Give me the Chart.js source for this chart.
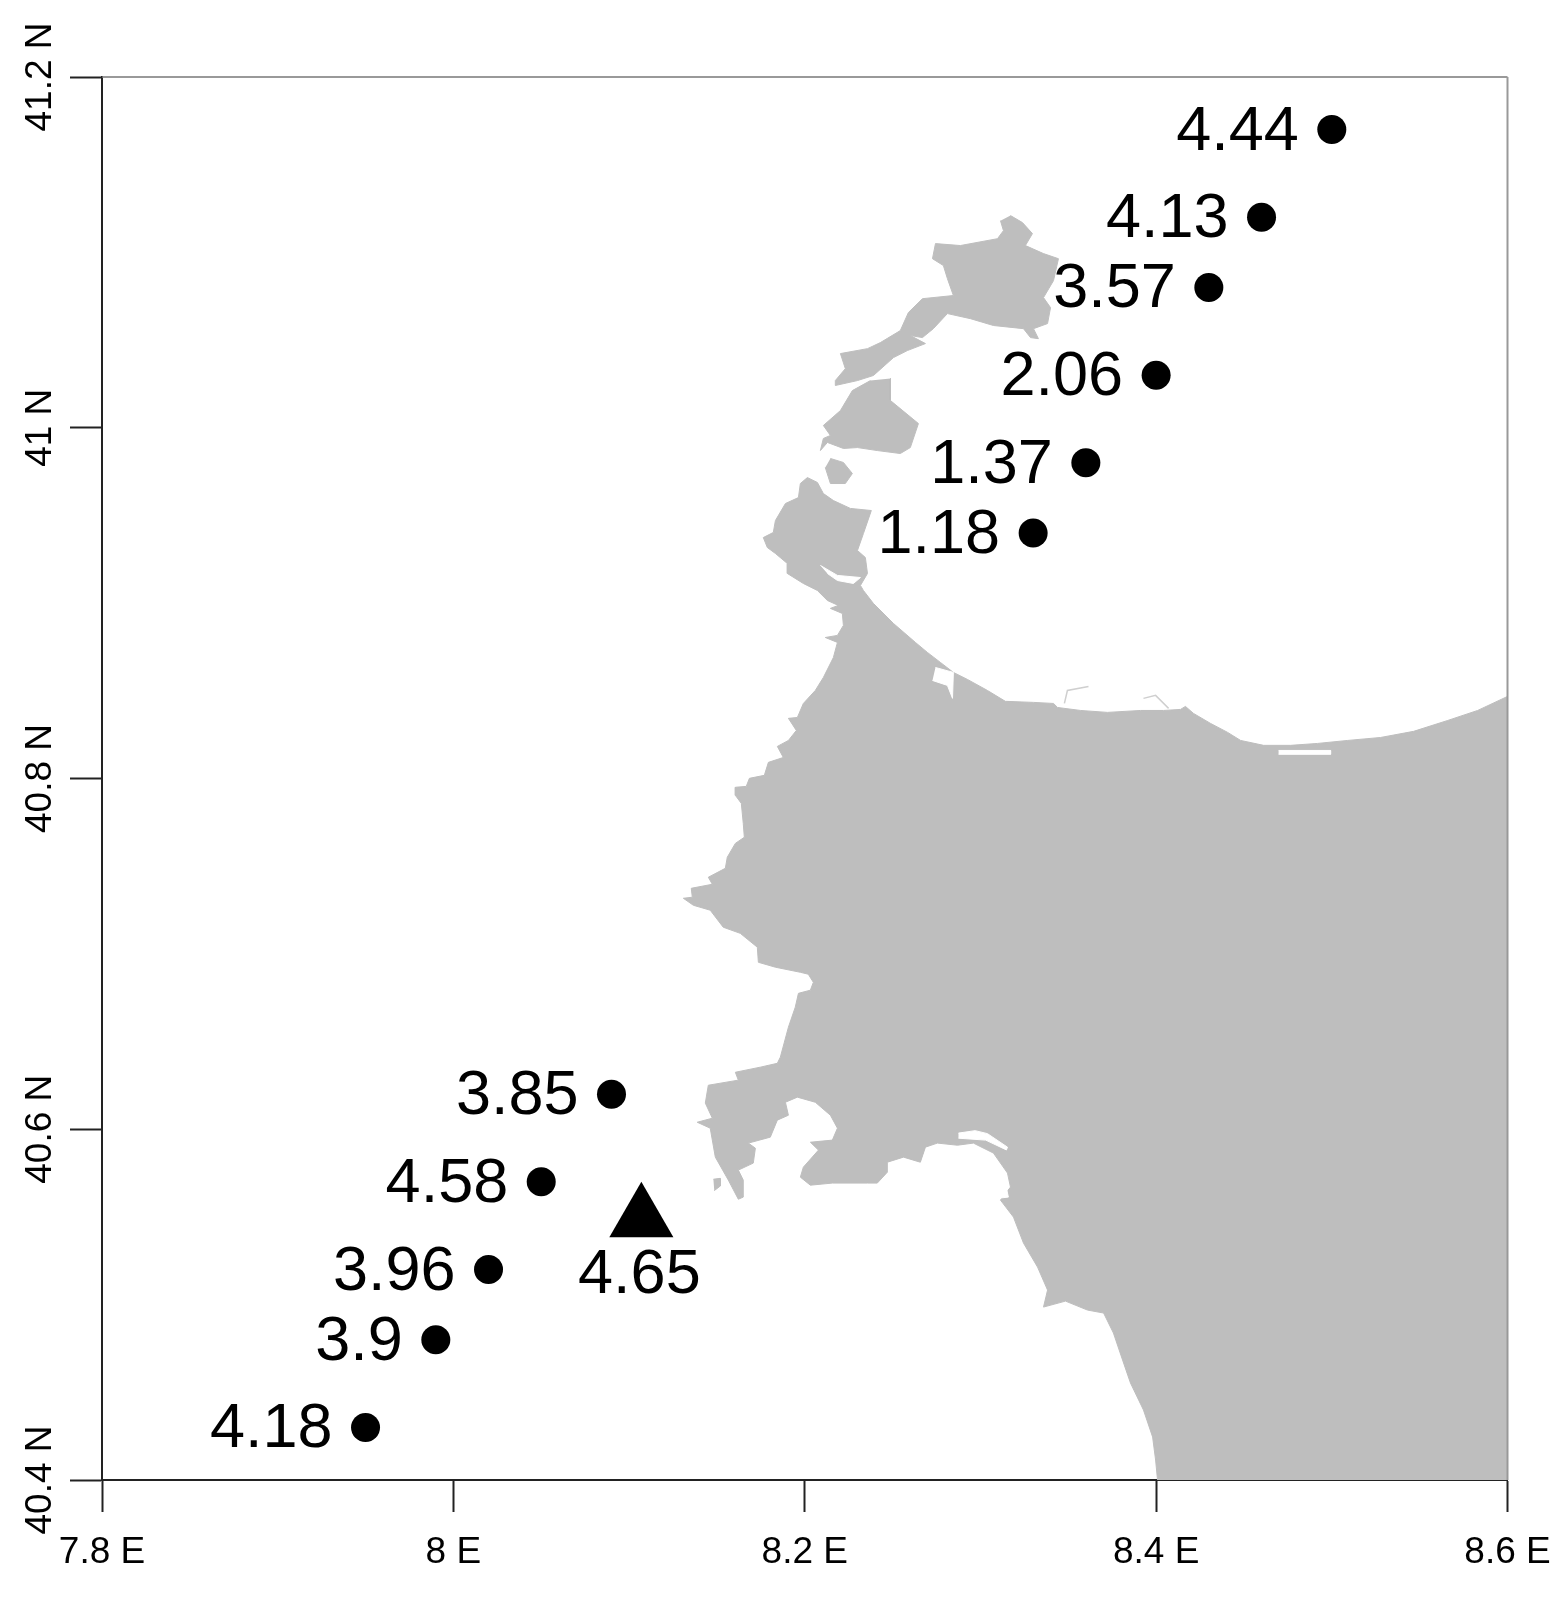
<!DOCTYPE html>
<html>
<head>
<meta charset="utf-8">
<style>
  html, body { margin: 0; padding: 0; background: #fff; }
  canvas { display: block; }
</style>
<script src="https://cdn.jsdelivr.net/npm/chart.js@4"></script>
</head>
<body>
<canvas id="mapChart" width="1561" height="1601"></canvas>
<script>
// stations
var stationLon = [8.50, 8.46, 8.43, 8.40, 8.36, 8.33, 8.09, 8.05, 8.02, 7.99, 7.95];
var stationLat = [41.17, 41.12, 41.08, 41.03, 40.98, 40.94, 40.62, 40.57, 40.52, 40.48, 40.43];
var stationLabels = ['4.44', '4.13', '3.57', '2.06', '1.37', '1.18', '3.85', '4.58', '3.96', '3.9', '4.18'];

var refLon = [8.107];
var refLat = [40.549];
var refLabels = ['4.65'];

var xTickLabels = ['7.8 E', '8 E', '8.2 E', '8.4 E', '8.6 E'];
var yTickLabels = ['40.4 N', '40.6 N', '40.8 N', '41 N', '41.2 N'];

// coastline
var mainLon = [8.6,8.583,8.566,8.5466,8.5278,8.509,8.4919,8.4765,8.4612,8.4481,8.4407,8.431,8.4213,8.4167,8.4139,8.4042,8.3911,8.3723,8.357,8.3439,8.3416,8.3302,8.3142,8.304,8.2926,8.2846,8.2772,8.2698,8.263,8.2505,8.2391,8.2334,8.2317,8.2357,8.2345,8.23,8.2334,8.2379,8.226,8.2163,8.2106,8.2072,8.2015,8.1975,8.1964,8.189,8.1833,8.1821,8.1764,8.1787,8.1833,8.1901,8.1901,8.1992,8.2072,8.2129,8.2191,8.2146,8.2214,8.222,8.2186,8.2117,8.2186,8.2163,8.2106,8.206,8.1992,8.1958,8.1907,8.1952,8.1907,8.1844,8.1878,8.1793,8.177,8.1685,8.1667,8.1605,8.1605,8.1639,8.165,8.1656,8.1605,8.1559,8.1548,8.1451,8.1474,8.1354,8.136,8.1309,8.1366,8.1462,8.1536,8.1633,8.173,8.1736,8.1833,8.1975,8.202,8.2049,8.2032,8.1964,8.1946,8.1907,8.1861,8.1844,8.1747,8.1605,8.1622,8.1451,8.1434,8.1474,8.1388,8.1462,8.1491,8.1565,8.1622,8.165,8.165,8.1622,8.1707,8.1719,8.1679,8.1804,8.1844,8.1907,8.189,8.1958,8.206,8.2146,8.2186,8.2157,8.2032,8.2078,8.1992,8.1975,8.2032,8.2157,8.2357,8.2413,8.247,8.247,8.2562,8.2658,8.2687,8.2755,8.2869,8.296,8.3074,8.3154,8.3171,8.3114,8.3188,8.3245,8.3325,8.3382,8.3359,8.3484,8.3609,8.3701,8.3757,8.3809,8.3854,8.3928,8.398,8.3997,8.4008,8.6,8.6];
var mainLat = [40.8468,40.8388,40.8331,40.8269,40.8234,40.8217,40.82,40.8189,40.8189,40.8217,40.8263,40.8314,40.8371,40.8411,40.8394,40.8388,40.8388,40.8377,40.8388,40.8405,40.8428,40.8434,40.844,40.8502,40.8565,40.8605,40.8662,40.8719,40.8776,40.8884,40.8998,40.9072,40.9101,40.9169,40.926,40.93,40.9397,40.9528,40.954,40.9585,40.9625,40.9688,40.9716,40.9682,40.9602,40.9568,40.9471,40.9403,40.9374,40.9317,40.9283,40.9226,40.9169,40.9112,40.9072,40.9015,40.8987,40.897,40.8941,40.8873,40.8816,40.8804,40.8776,40.869,40.8576,40.8502,40.8428,40.8348,40.8343,40.8274,40.8217,40.8183,40.812,40.8092,40.8018,40.8001,40.7955,40.795,40.7904,40.7858,40.7744,40.7665,40.763,40.7551,40.7488,40.7437,40.7397,40.7374,40.7323,40.7317,40.7277,40.7249,40.7152,40.7117,40.7038,40.6952,40.6924,40.6895,40.6884,40.6838,40.6793,40.6775,40.6696,40.6582,40.6411,40.6376,40.6354,40.6325,40.628,40.6251,40.6149,40.6063,40.604,40.6006,40.5841,40.571,40.5601,40.5613,40.571,40.5767,40.5807,40.5892,40.5921,40.5955,40.6052,40.608,40.6154,40.6183,40.6154,40.608,40.6006,40.5938,40.5926,40.5881,40.5784,40.5727,40.5681,40.5693,40.5693,40.5693,40.5755,40.5812,40.5841,40.5812,40.5898,40.5921,40.5909,40.5921,40.5864,40.575,40.567,40.5596,40.5499,40.5351,40.5214,40.5083,40.4986,40.502,40.4969,40.4952,40.4838,40.4684,40.4553,40.4399,40.4245,40.4114,40.4,40.4,40.8468];

var northLon = [8.3171,8.3239,8.3296,8.3256,8.3359,8.3444,8.3416,8.3359,8.3399,8.3382,8.3302,8.333,8.3285,8.3245,8.3074,8.2943,8.2812,8.2732,8.267,8.2601,8.2687,8.2584,8.2505,8.2391,8.23,8.2174,8.2174,8.2231,8.2203,8.2357,8.2431,8.2544,8.259,8.267,8.2846,8.2812,8.2789,8.2727,8.2744,8.2886,8.3097,8.3131,8.3114];
var northLat = [41.121,41.117,41.1107,41.1039,41.0993,41.0964,41.0839,41.0742,41.0685,41.0594,41.0565,41.0508,41.0514,41.0565,41.0583,41.0622,41.0651,41.0565,41.0514,41.0526,41.048,41.044,41.04,41.0298,41.0269,41.0241,41.0269,41.0337,41.0423,41.0451,41.0486,41.0554,41.0657,41.0736,41.0754,41.085,41.0925,41.0964,41.105,41.1039,41.1078,41.1124,41.1181];

var midLon = [8.2488,8.2488,8.2647,8.2601,8.2544,8.2413,8.23,8.222,8.2129,8.2089,8.2106,8.2146,8.2106,8.2203,8.2271,8.2374];
var midLat = [41.0281,41.0155,41.0024,40.9887,40.9853,40.987,40.9887,40.9882,40.9916,40.987,40.9939,40.9956,41.0013,41.0098,41.0212,41.0269];

var isletLon = [8.2146,8.222,8.2271,8.2231,8.2146,8.2117];
var isletLat = [40.9825,40.9802,40.9739,40.9682,40.9682,40.9773];

var rockLon = [8.148,8.1519,8.1519,8.1485];
var rockLat = [40.5715,40.572,40.5676,40.565];

// thin sand spits off the north shore
var spitALon = [8.3478,8.3495,8.3615];
var spitALat = [40.8428,40.8502,40.8525];
var spitBLon = [8.3928,8.3997,8.4071];
var spitBLat = [40.8457,40.8474,40.84];

// lagoons, white holes in the land
var lagoonALon = [8.2089,8.2186,8.2317,8.2277,8.2186,8.2129];
var lagoonALat = [40.9215,40.9158,40.9146,40.9112,40.9129,40.9169];
var lagoonBLon = [8.2744,8.2846,8.2841,8.2812,8.2727];
var lagoonBLat = [40.8633,40.8605,40.8457,40.8531,40.8559];
var lagoonCLon = [8.4697,8.4993,8.4993,8.4697];
var lagoonCLat = [40.816,40.816,40.8138,40.8138];
var lagoonDLon = [8.2875,8.297,8.304,8.3154,8.3148,8.303,8.2875];
var lagoonDLat = [40.5978,40.5992,40.5975,40.5898,40.5882,40.5938,40.5949];
var lagoonELon = [8.3085,8.3148,8.3159,8.3103];
var lagoonELat = [40.5653,40.5664,40.5613,40.5607];

var landColor = '#bebebe';
var textColor = '#000';
var fontName = '"Liberation Sans", Arial, sans-serif';

function toPoints(lons, lats) {
    return lons.map(function(lon, i) {
        return { x: lon, y: lats[i] };
    });
}

function polygon(label, lons, lats, color, order) {
    return {
        label: label,
        data: toPoints(lons, lats),
        showLine: true,
        fill: 'shape',
        backgroundColor: color,
        borderColor: color,
        borderWidth: 1,
        tension: 0,
        pointRadius: 0,
        pointHoverRadius: 0,
        order: order
    };
}

function spit(label, lons, lats) {
    return {
        label: label,
        data: toPoints(lons, lats),
        showLine: true,
        fill: false,
        borderColor: '#cfcfcf',
        borderWidth: 1.5,
        tension: 0,
        pointRadius: 0,
        pointHoverRadius: 0,
        order: 5
    };
}

// frame top and right, the value labels next to the marks
var mapExtras = {
    id: 'mapExtras',
    afterDatasetsDraw: function(chart) {
        var ctx = chart.ctx;
        var area = chart.chartArea;
        ctx.save();
        ctx.strokeStyle = '#777';
        ctx.lineWidth = 1.5;
        ctx.beginPath();
        ctx.moveTo(area.left, area.top);
        ctx.lineTo(area.right, area.top);
        ctx.stroke();
        ctx.strokeStyle = '#999';
        ctx.lineWidth = 2;
        ctx.beginPath();
        ctx.moveTo(area.right, area.top);
        ctx.lineTo(area.right, area.bottom);
        ctx.stroke();

        ctx.fillStyle = textColor;
        ctx.font = '63px ' + fontName;
        ctx.textBaseline = 'alphabetic';
        ctx.textAlign = 'right';
        var stations = chart.getDatasetMeta(chart.data.datasets.length - 2).data;
        stations.forEach(function(el, i) {
            ctx.fillText(stationLabels[i], el.x - 33, el.y + 20);
        });
        ctx.textAlign = 'center';
        var ref = chart.getDatasetMeta(chart.data.datasets.length - 1).data;
        ref.forEach(function(el, i) {
            ctx.fillText(refLabels[i], el.x - 2, el.y + 74);
        });
        ctx.restore();
    }
};

var ctx = document.getElementById('mapChart').getContext('2d');

var mapChart = new Chart(ctx, {
    type: 'scatter',
    data: {
        datasets: [
            polygon('main', mainLon, mainLat, landColor, 5),
            polygon('north', northLon, northLat, landColor, 5),
            polygon('mid', midLon, midLat, landColor, 5),
            polygon('islet', isletLon, isletLat, landColor, 5),
            polygon('rock', rockLon, rockLat, landColor, 5),
            spit('spitA', spitALon, spitALat),
            spit('spitB', spitBLon, spitBLat),
            polygon('lagoonA', lagoonALon, lagoonALat, '#fff', 4),
            polygon('lagoonB', lagoonBLon, lagoonBLat, '#fff', 4),
            polygon('lagoonC', lagoonCLon, lagoonCLat, '#fff', 4),
            polygon('lagoonD', lagoonDLon, lagoonDLat, '#fff', 4),
            polygon('lagoonE', lagoonELon, lagoonELat, '#fff', 4),
            {
                label: 'stations',
                data: toPoints(stationLon, stationLat),
                pointStyle: 'circle',
                pointRadius: 14.5,
                pointBackgroundColor: '#000',
                pointBorderWidth: 0,
                order: 1
            },
            {
                label: 'reference',
                data: toPoints(refLon, refLat),
                pointStyle: 'triangle',
                pointRadius: 37,
                pointBackgroundColor: '#000',
                pointBorderWidth: 0,
                order: 1
            }
        ]
    },
    options: {
        responsive: false,
        animation: false,
        layout: {
            padding: { top: 77, right: 53.5, left: 0, bottom: 0 }
        },
        plugins: {
            legend: { display: false },
            tooltip: { enabled: false }
        },
        scales: {
            x: {
                type: 'linear',
                min: 7.8,
                max: 8.6,
                afterFit: function(scale) {
                    scale.height = 121;
                    scale.paddingLeft = 0;
                    scale.paddingRight = 0;
                },
                border: { display: true, color: '#222', width: 2 },
                grid: { drawOnChartArea: false, tickLength: 32, tickColor: '#222', tickWidth: 2 },
                ticks: {
                    stepSize: 0.2,
                    autoSkip: false,
                    maxRotation: 0,
                    padding: 19,
                    color: textColor,
                    font: { family: fontName, size: 37 },
                    callback: function(value, index) { return xTickLabels[index]; }
                }
            },
            y: {
                type: 'linear',
                min: 40.4,
                max: 41.2,
                afterFit: function(scale) {
                    scale.width = 102;
                    scale.paddingTop = 0;
                    scale.paddingBottom = 0;
                },
                border: { display: true, color: '#222', width: 2 },
                grid: { drawOnChartArea: false, tickLength: 32, tickColor: '#222', tickWidth: 2 },
                ticks: {
                    stepSize: 0.2,
                    autoSkip: false,
                    minRotation: 90,
                    maxRotation: 90,
                    crossAlign: 'center',
                    padding: -25,
                    color: textColor,
                    font: { family: fontName, size: 37 },
                    callback: function(value, index) { return yTickLabels[index]; }
                }
            }
        }
    },
    plugins: [mapExtras]
});
</script>
</body>
</html>
